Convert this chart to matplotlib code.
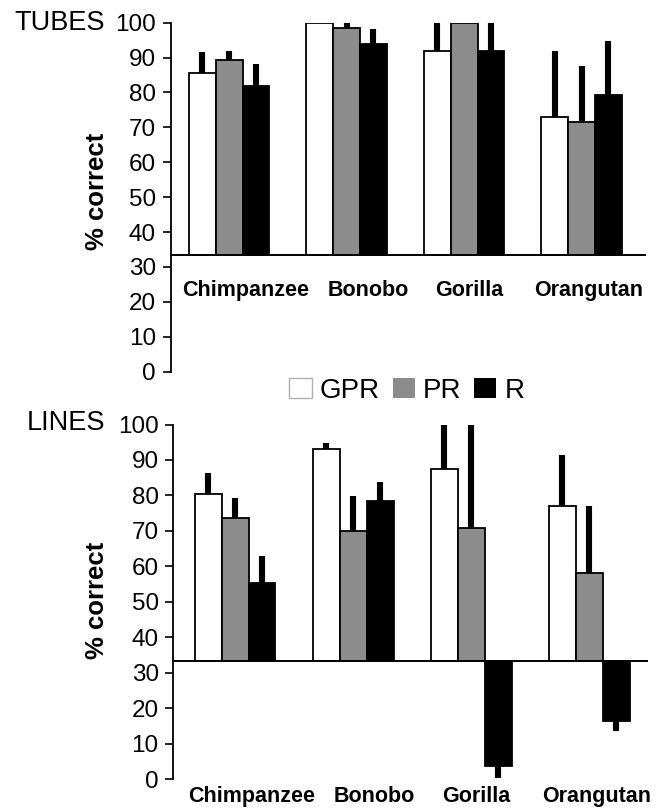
import matplotlib
matplotlib.use("Agg")
import matplotlib.pyplot as plt
from matplotlib.patches import Patch
import numpy as np

plt.rcParams['font.family'] = ['Liberation Sans', 'DejaVu Sans']

species = ["Chimpanzee", "Bonobo", "Gorilla", "Orangutan"]
conditions = ["GPR", "PR", "R"]
chance = 33.33

tubes_gpr = [85.5, 100.0, 91.9, 73.0]
tubes_pr = [89.3, 98.4, 100.0, 71.4]
tubes_r = [81.9, 93.8, 91.9, 79.4]
tubes_gpr_err = [6.2, 0.0, 8.1, 19.0]
tubes_pr_err = [2.6, 1.6, 0.0, 16.2]
tubes_r_err = [6.4, 4.3, 8.1, 15.4]

lines_gpr = [80.5, 93.2, 87.4, 77.0]
lines_pr = [73.5, 69.9, 70.9, 58.2]
lines_r = [55.4, 78.4, 3.7, 16.4]
lines_gpr_err = [5.8, 1.5, 12.6, 14.5]
lines_pr_err = [5.8, 9.9, 29.1, 18.8]
lines_r_err = [7.5, 5.3, 3.5, 2.9]

yticks = [0, 10, 20, 30, 40, 50, 60, 70, 80, 90, 100]

colors = ["white", "#8c8c8c", "black"]
W, H = 656, 809
fig = plt.figure(figsize=(W / 100, H / 100), dpi=100)

label_shift = [0.14, 0.18, 0.04, 0.06]
bw = 0.228


def panel(rect, series, errs, title, title_y, label_y, ylabel_y, xlim):
    ax = fig.add_axes(rect)
    x = np.arange(len(species))
    for i, (vals, ers) in enumerate(zip(series, errs)):
        vals = np.array(vals)
        ers = np.array(ers)
        xi = x + (i - 1) * bw
        ax.bar(xi, vals - chance, bottom=chance, width=bw, color=colors[i],
               edgecolor="black", linewidth=1.3, zorder=3)
        up = np.where(vals >= chance, ers, 0)
        lo = np.where(vals < chance, ers, 0)
        ax.errorbar(xi, vals, yerr=[lo, up], fmt="none", ecolor="black",
                    elinewidth=4.4, capsize=0, zorder=2, clip_on=False)
    ax.axhline(chance, color="black", linewidth=1.4, zorder=4, clip_on=False)
    ax.set_ylim(0, 100)
    ax.set_xlim(*xlim)
    ax.set_yticks(yticks)
    ax.set_yticklabels([str(t) for t in yticks], fontsize=17.5)
    ax.tick_params(axis="y", length=5.5, width=1.2, pad=5, direction="out")
    ax.set_xticks([])
    for s in ["top", "right", "bottom"]:
        ax.spines[s].set_visible(False)
    ax.spines["left"].set_linewidth(1.3)
    for j, name in enumerate(species):
        ax.text(j + label_shift[j], label_y, name, ha="center", va="baseline",
                fontsize=15.5, fontweight="bold", clip_on=False)
    fig.text(105 / W, 1 - title_y / H, title, ha="right", va="center", fontsize=19.5)
    fig.text(97 / W, 1 - ylabel_y / H, "% correct", rotation=90, ha="center",
             va="center", fontsize=18.5, fontweight="bold")
    return ax


panel([170.7 / W, 1 - 371.6 / H, 474.3 / W, (371.6 - 22.7) / H],
      [tubes_gpr, tubes_pr, tubes_r], [tubes_gpr_err, tubes_pr_err, tubes_r_err],
      "TUBES", 23.5, 21.7, 191, (-0.498, 3.54))
panel([173.3 / W, 1 - 779 / H, 474 / W, (779 - 424.5) / H],
      [lines_gpr, lines_pr, lines_r], [lines_gpr_err, lines_pr_err, lines_r_err],
      "LINES", 423, -6.5, 600, (-0.523, 3.49))

handles = [Patch(facecolor="white", edgecolor="#b0b0b0", linewidth=1.0),
           Patch(facecolor="#8c8c8c", edgecolor="none"),
           Patch(facecolor="black", edgecolor="none")]
fig.legend(handles, conditions, loc="center", bbox_to_anchor=(407 / W, 1 - 391 / H),
           ncol=3, frameon=False, fontsize=20, handlelength=0.8, handleheight=0.75,
           handletextpad=0.3, columnspacing=0.45, borderpad=0, borderaxespad=0)

fig.savefig("out.png", dpi=100)
